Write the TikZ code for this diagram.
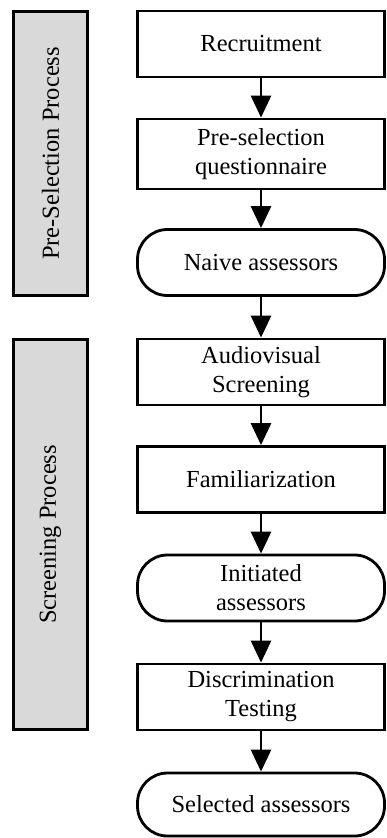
\documentclass[tikz,border=0pt]{standalone}
\usepackage{fontspec}
\setmainfont{Liberation Serif}
\usetikzlibrary{arrows.meta}
\definecolor{panelgray}{RGB}{217,217,217}
\begin{document}
\begin{tikzpicture}[x=1pt,y=-1pt,
  every node/.style={font=\fontsize{24.5pt}{29pt}\selectfont},
  stepbox/.style={draw, line width=2.8pt, minimum width=247pt, minimum height=66pt, align=center, inner sep=2pt},
  termbox/.style={stepbox, rounded corners=30pt},
  panel/.style={draw, line width=2.8pt, fill=panelgray, rotate=90, inner sep=0pt},
  arr/.style={line width=2.8pt, -{Triangle[width=20pt,length=22pt]}}]
\useasboundingbox (0,0) rectangle (386,838);
\node[panel, minimum width=284pt, minimum height=74pt] (p1) at (50.5,153.5) {Pre-Selection Process};
\node[panel, minimum width=390pt, minimum height=74pt] (p2) at (50.5,534.5) {Screening Process};
\node[stepbox] (rec) at (261,44) {Recruitment};
\node[stepbox, minimum height=70pt] (pre) at (261,154) {Pre-selection\\questionnaire};
\node[termbox] (naive) at (261,262.5) {Naive assessors};
\node[stepbox] (av) at (261,372) {Audiovisual\\Screening};
\node[stepbox] (fam) at (261,479.5) {Familiarization};
\node[termbox] (init) at (261,588) {Initiated\\assessors};
\node[stepbox] (disc) at (261,697) {Discrimination\\Testing};
\node[termbox, minimum height=63pt] (sel) at (261,804.5) {Selected assessors};
\draw[arr] (rec) -- (pre);
\draw[arr] (pre) -- (naive);
\draw[arr] (naive) -- (av);
\draw[arr] (av) -- (fam);
\draw[arr] (fam) -- (init);
\draw[arr] (init) -- (disc);
\draw[arr] (disc) -- (sel);
\end{tikzpicture}
\end{document}
